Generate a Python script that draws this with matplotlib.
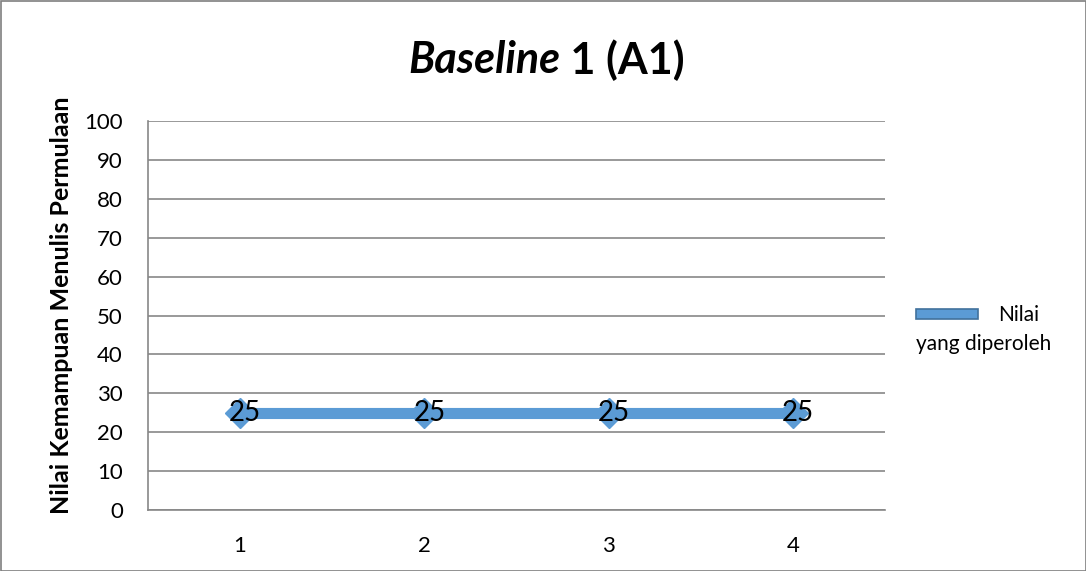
import matplotlib.pyplot as plt
from matplotlib.patches import Rectangle

sessions = [1, 2, 3, 4]
scores = [25, 25, 25, 25]
series_name = "Nilai yang diperoleh"
y_ticks = list(range(0, 101, 10))

plt.rcParams['font.family'] = ['Lato', 'DejaVu Sans']

W, H = 1086, 571
fig = plt.figure(figsize=(W / 100, H / 100), dpi=100)
ax = fig.add_axes([148 / W, 1 - 510 / H, (885 - 148) / W, (510 - 121) / H])

blue = '#5B9BD5'
edge = '#41719C'
grid = '#878787'

ax.plot(sessions, scores, color=blue, linewidth=8, solid_capstyle='butt',
        marker='D', markersize=15, markerfacecolor=blue, markeredgecolor=blue, zorder=3)
for x, y in zip(sessions, scores):
    ax.annotate(str(y), (x, y), xytext=(3.6, -0.5), textcoords='offset points',
                ha='center', va='center', fontsize=20, color='black', zorder=4)

ax.set_xlim(0.5, 4.5)
ax.set_ylim(0, 100)
ax.set_xticks(sessions)
ax.set_yticks(y_ticks)
ax.tick_params(axis='both', length=0, labelsize=16, colors='black')
ax.tick_params(axis='x', pad=19)
ax.tick_params(axis='y', pad=18)
ax.yaxis.grid(True, color=grid, linewidth=1.2)
ax.set_axisbelow(True)
for s in ['top', 'right']:
    ax.spines[s].set_visible(False)
for s in ['left', 'bottom']:
    ax.spines[s].set_color(grid)
    ax.spines[s].set_linewidth(1.2)

fig.text(62 / W, 1 - 305 / H, "Nilai Kemampuan Menulis Permulaan", fontsize=18,
         fontweight='bold', rotation=90, ha='center', va='center')

# title: italic part and upright part share one baseline
fig.text(560 / W, 1 - 60 / H, "Baseline", fontsize=31, fontweight='bold',
         fontstyle='italic', ha='right', va='center')
fig.text(560 / W, 1 - 60 / H, " 1 (A1)", fontsize=31, fontweight='bold',
         ha='left', va='center')

# legend drawn by hand so the label wraps under the swatch
fig.patches.append(Rectangle((916 / W, 1 - 319 / H), 62 / W, 10 / H,
                             facecolor=blue, edgecolor=edge, linewidth=1.2,
                             transform=fig.transFigure, figure=fig))
first, rest = series_name.split(" ", 1)
fig.text(998 / W, 1 - 315 / H, first, fontsize=15, va='center', ha='left')
fig.text(916 / W, 1 - 344 / H, rest, fontsize=15, va='center', ha='left')

fig.patches.append(Rectangle((0.5 / W, 0.5 / H), (W - 1) / W, (H - 1) / H,
                             facecolor='none', edgecolor='#7F7F7F', linewidth=1.2,
                             transform=fig.transFigure, figure=fig))

fig.savefig('out.png', dpi=100)
